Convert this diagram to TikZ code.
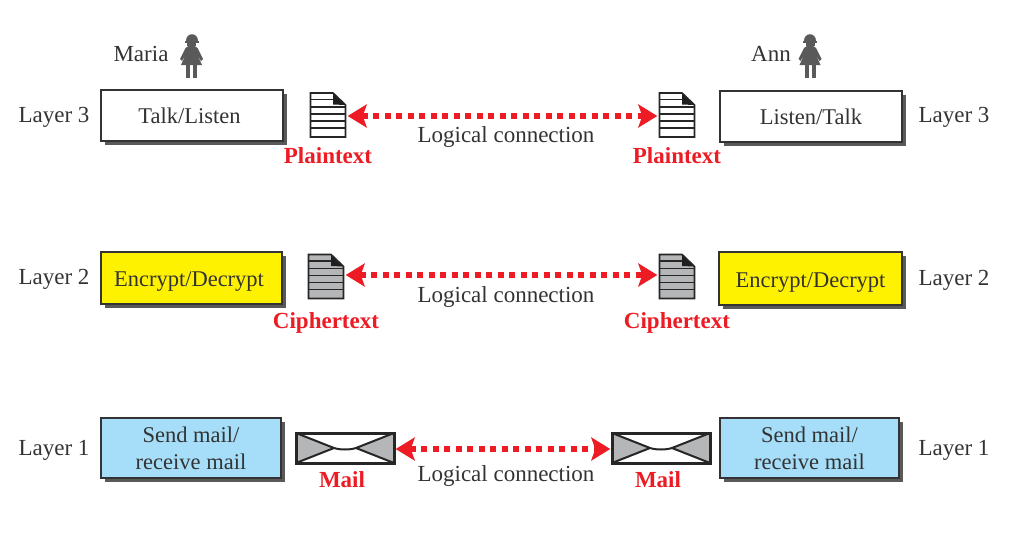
\documentclass[tikz,border=0pt]{standalone}
\usepackage{fontspec}
\setmainfont{Liberation Serif}
\usetikzlibrary{arrows.meta,shadows}
\definecolor{txt}{HTML}{333333}
\definecolor{redc}{HTML}{ED1C24}
\definecolor{bluec}{HTML}{A6DDF8}
\definecolor{yelc}{HTML}{FFF200}
\definecolor{grayc}{HTML}{B5B6B8}
\definecolor{figc}{HTML}{5A5A5A}
\tikzset{
  x=1pt,y=-1pt,
  lbl/.style={text=txt,font=\fontsize{23}{27}\selectfont,inner sep=0pt,align=center,yshift=-2pt},
  redlbl/.style={text=redc,font=\fontsize{23}{26}\selectfont\bfseries,inner sep=0pt},
  box/.style={draw=black!80,line width=1.6pt,inner sep=0pt,align=center,text=txt,
    font=\fontsize{22.5}{27}\selectfont,
    drop shadow={shadow xshift=4pt,shadow yshift=-4pt,fill=black!65,opacity=1}},
  docn/.style={minimum width=36pt,minimum height=45pt,inner sep=0pt},
  envn/.style={minimum width=98pt,minimum height=30pt,inner sep=0pt},
  logic/.style={draw=redc,line width=5.5pt,dash pattern=on 6pt off 5.5pt,
    {Stealth[length=19pt,width=23pt,inset=4pt]}-{Stealth[length=19pt,width=23pt,inset=4pt]},shorten >=1.5pt,shorten <=1.5pt},
  pics/docglyph/.style={code={
    \fill[#1] (-17.5,-22) -- (5,-22) -- (17.5,-10) -- (17.5,22) -- (-17.5,22) -- cycle;
    \foreach \yy in {-8,-1,6,13} \draw[line width=1.7pt,black!85] (-17.5,\yy) -- (17.5,\yy);
    \draw[line width=1.7pt,black!85] (-17.5,-15.5) -- (5,-15.5);
    \fill[black!88] (5,-22) -- (17.5,-10) -- (5,-10.5) -- cycle;
    \draw[line width=1.7pt,black!85] (5,-22) -- (-17.5,-22) -- (-17.5,22) -- (17.5,22) -- (17.5,-10) -- cycle;
  }},
  pics/envglyph/.style={code={
    \fill[white] (-49,-15) rectangle (49,15);
    \fill[grayc] (-49,-15) -- (-10,0) -- (-49,15) -- cycle;
    \fill[grayc] (49,-15) -- (10,0) -- (49,15) -- cycle;
    \draw[line width=2pt,black!85] (-49,-15) -- (-11,0) .. controls (-5,2) and (5,2) .. (11,0) -- (49,-15);
    \draw[line width=2pt,black!85] (-49,15) -- (-11,0) (49,15) -- (11,0);
    \draw[line width=3pt,black!85] (-49,-15) rectangle (49,15);
  }},
  pics/womanglyph/.style={code={
    \fill[figc] (-6,-15) .. controls (-6,-24.5) and (6,-24.5) .. (6,-15) -- cycle;
    \fill[figc] (-7,-15.5) rectangle (7,-13.5);
    \fill[figc] (-4.5,-13.5) rectangle (4.5,-10);
    \fill[figc] (-3,-10) -- (3,-10) -- (6,-8) -- (11.5,3) -- (9.5,5) -- (5,-3) -- (10.5,9) -- (-10.5,9) -- (-5,-3) -- (-9.5,5) -- (-11.5,3) -- (-6,-8) -- cycle;
    \fill[figc] (-5.5,9) rectangle (-1.5,22);
    \fill[figc] (1.5,9) rectangle (5.5,22);
  }}
}
\begin{document}
\begin{tikzpicture}
\useasboundingbox (0,0) rectangle (1033,546);
\fill[white] (0,0) rectangle (1033,546);
% boxes
\node[box,fill=white,minimum width=182pt,minimum height=51pt] (tl) at (192,115.5) {Talk/Listen\hspace{5pt}};
\node[box,fill=white,minimum width=182pt,minimum height=51pt] (lt) at (811,116.5) {Listen/Talk};
\node[box,fill=yelc,minimum width=181pt,minimum height=52pt] (el) at (191.5,278) {\rule{0pt}{21pt}Encrypt/Decrypt\hspace{5pt}};
\node[box,fill=yelc,minimum width=183pt,minimum height=53pt] (er) at (810.5,278.5) {\rule{0pt}{23pt}Encrypt/Decrypt};
\node[box,fill=bluec,minimum width=180pt,minimum height=60pt] (ml) at (191,448) {Send mail/\hspace{4pt}\\receive mail\hspace{4pt}};
\node[box,fill=bluec,minimum width=179pt,minimum height=60pt] (mr) at (809.5,448) {Send mail/\\receive mail};
% layer labels
\node[lbl] (l3a) at (54,115) {Layer 3};
\node[lbl] (l3b) at (954,115) {Layer 3};
\node[lbl] (l2a) at (54,277) {Layer 2};
\node[lbl] (l2b) at (954,278) {Layer 2};
\node[lbl] (l1a) at (54,448) {Layer 1};
\node[lbl] (l1b) at (954,448) {Layer 1};
% people
\node[lbl] (maria) at (141,52) {Maria};
\node[lbl] (ann) at (771,52) {Ann};
\pic at (191.5,56) {womanglyph};
\pic at (810,56) {womanglyph};
% documents
\node[docn] (pa) at (328,116) {};
\node[docn] (pb) at (677,116) {};
\node[docn] (ca) at (326,275) {};
\node[docn] (cb) at (677,275) {};
\node[envn] (ma) at (345,449) {};
\node[envn] (mb) at (661,449) {};
\pic at ([yshift=1pt]pa) {docglyph=white};
\pic at ([yshift=1pt]pb) {docglyph=white};
\pic at ([yshift=-1.5pt]ca) {docglyph=grayc};
\pic at ([yshift=-1.5pt]cb) {docglyph=grayc};
\pic at ([yshift=1pt]ma) {envglyph};
\pic at ([yshift=1pt]mb) {envglyph};
% connectors
\draw[logic] (pa.east) -- (pb.west);
\draw[logic] (ca.east) -- (cb.west);
\draw[logic] (ma.east) -- (mb.west);
% labels
\node[lbl] (lc3) at (506,135.5) {Logical connection};
\node[lbl] (lc2) at (506,294.5) {Logical connection};
\node[lbl] (lc1) at (506,473.5) {Logical connection};
\node[redlbl] (t1) at (328,156) {Plaintext};
\node[redlbl] (t2) at (677,156) {Plaintext};
\node[redlbl] (t3) at (326,323) {Ciphertext};
\node[redlbl] (t4) at (677,323) {Ciphertext};
\node[redlbl] (t5) at (342,480) {Mail};
\node[redlbl] (t6) at (658,480) {Mail};
\end{tikzpicture}
\end{document}
